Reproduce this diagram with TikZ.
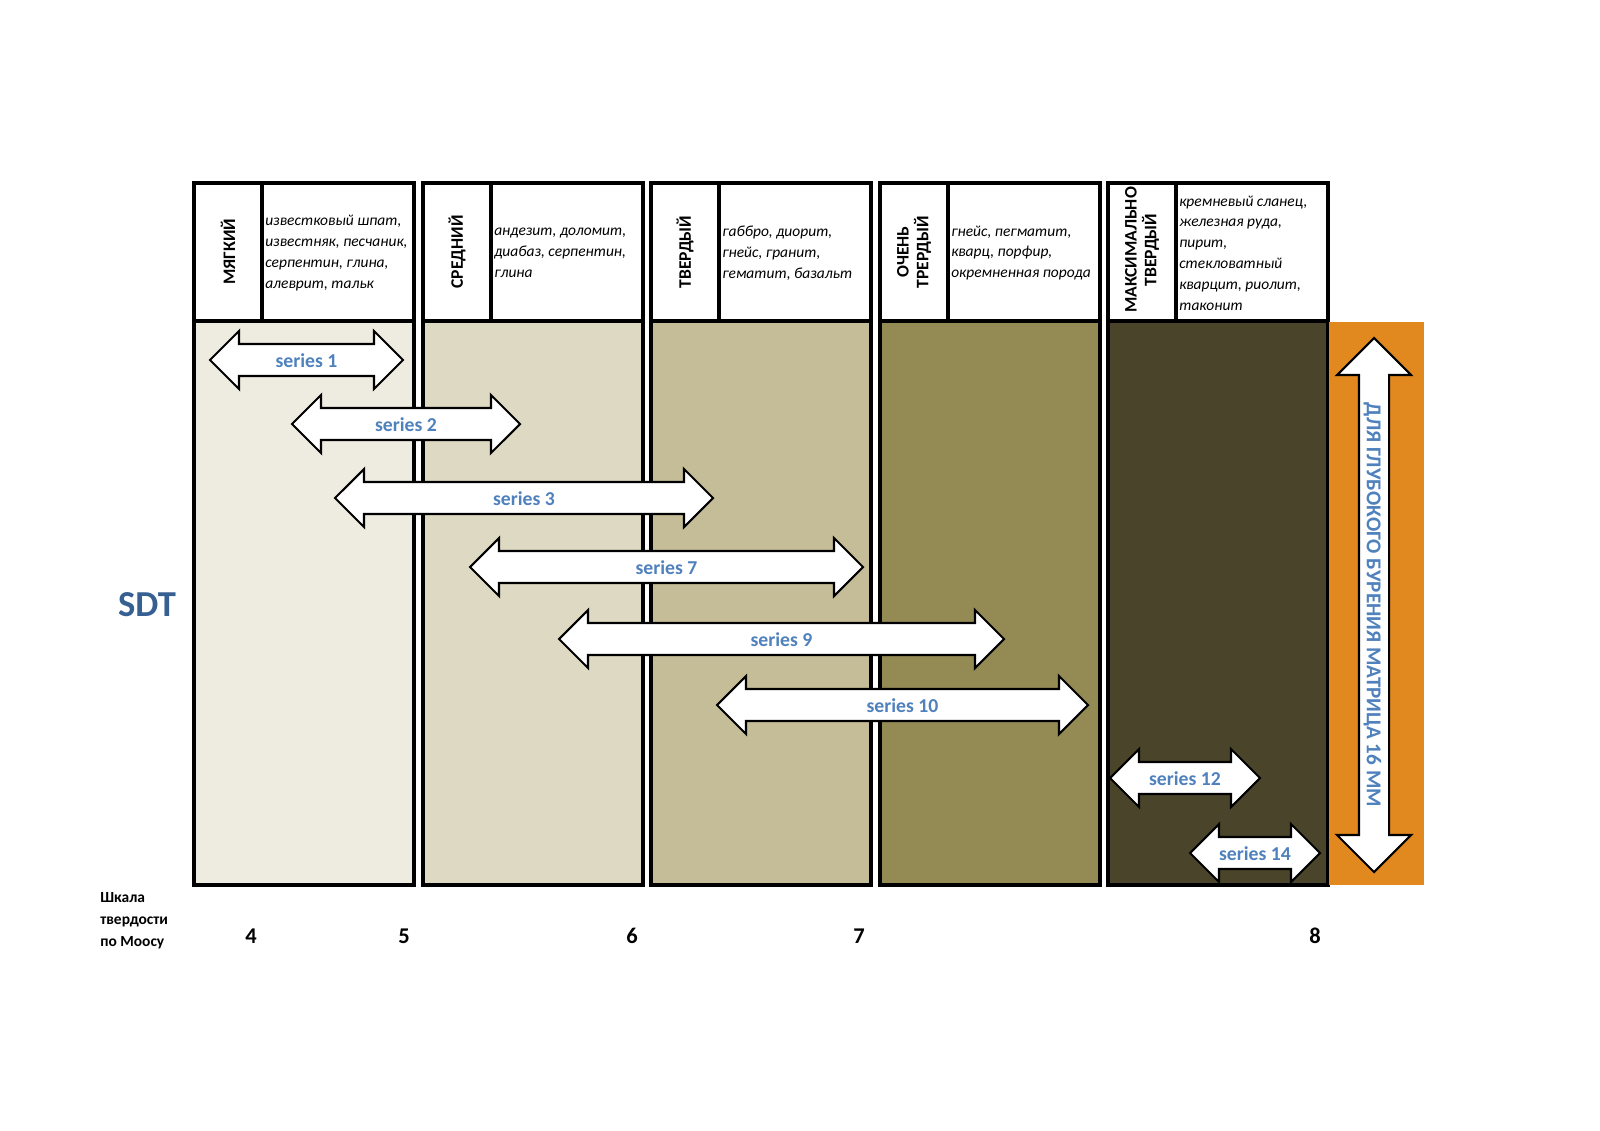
\documentclass[tikz,border=0pt]{standalone}
\usepackage{fontspec}
\setmainfont{Carlito}
\usepackage{xcolor}
\usepackage{tikz}
\usetikzlibrary{shapes,shapes.arrows,positioning}

\definecolor{softfill}{HTML}{EEECE1}
\definecolor{mediumfill}{HTML}{DDD9C3}
\definecolor{hardfill}{HTML}{C4BD97}
\definecolor{veryhardfill}{HTML}{948A54}
\definecolor{maxhardfill}{HTML}{4A452A}
\definecolor{deepfill}{HTML}{E1891E}
\definecolor{seriesblue}{HTML}{4F81BD}
\definecolor{sdtblue}{HTML}{376092}
\newcommand{\pxu}{0.025cm}

\begin{document}
\begin{tikzpicture}[x=\pxu, y=-\pxu,
    frame/.style={line width=2.8pt},
    rock/.style={font=\itshape\fontsize{11}{14.8}\selectfont, align=left, anchor=west, inner sep=0pt},
    hardness/.style={font=\bfseries\fontsize{12.5}{14}\selectfont, rotate=90, align=center, inner sep=0pt},
    series/.style={double arrow, draw, fill=white, line width=1.5pt,
        double arrow head extend=13*\pxu, double arrow tip angle=90,
        text height=10pt, text depth=0pt, inner xsep=0pt, inner ysep=5.65pt,
        text=seriesblue, font=\bfseries\fontsize{14}{16}\selectfont},
    mohs/.style={font=\bfseries\fontsize{16}{18}\selectfont}]
    \useasboundingbox (0,0) rectangle (1600,1131);

    % hardness columns
    \draw[frame, fill=softfill] (194,321) rectangle (414,885);
    \draw[frame] (194,183) rectangle (414,321) (262,183) -- (262,321);
    \draw[frame, fill=mediumfill] (423,321) rectangle (643,885);
    \draw[frame] (423,183) rectangle (643,321) (491,183) -- (491,321);
    \draw[frame, fill=hardfill] (651,321) rectangle (871,885);
    \draw[frame] (651,183) rectangle (871,321) (719,183) -- (719,321);
    \draw[frame, fill=veryhardfill] (880,321) rectangle (1100,885);
    \draw[frame] (880,183) rectangle (1100,321) (948,183) -- (948,321);
    \draw[frame, fill=maxhardfill] (1108,321) rectangle (1328,885);
    \draw[frame] (1108,183) rectangle (1328,321) (1176,183) -- (1176,321);

    % header labels
    \node[hardness] (soft) at (228,252) {МЯГКИЙ};
    \node[rock] (softrock) at (265,253) {известковый шпат,\\известняк, песчаник,\\серпентин, глина,\\алеврит, тальк};
    \node[hardness] (medium) at (457,252) {СРЕДНИЙ};
    \node[rock] (mediumrock) at (494,253) {андезит, доломит,\\диабаз, серпентин,\\глина};
    \node[hardness] (hard) at (685,252) {ТВЕРДЫЙ};
    \node[rock] (hardrock) at (722,253) {габбро, диорит,\\гнейс, гранит,\\гематит, базальт};
    \node[hardness] (veryhard) at (914,252) {ОЧЕНЬ\\ТРЕРДЫЙ};
    \node[rock] (veryhardrock) at (951,253) {гнейс, пегматит,\\кварц, порфир,\\окремненная порода};
    \node[hardness] (maxhard) at (1142,250) {МАКСИМАЛЬНО\\ТВЕРДЫЙ};
    \node[rock] (maxhardrock) at (1179,253) {кремневый сланец,\\железная руда,\\пирит,\\стекловатный\\кварцит, риолит,\\таконит};

    % deep drilling
    \fill[deepfill] (1329,322) rectangle (1424,885);
    \node[series, rotate=-90, minimum height=534*\pxu, inner ysep=4.95pt,
        double arrow head extend=22*\pxu, font=\bfseries\fontsize{15}{17}\selectfont] (deep) at (1374,605) {ДЛЯ ГЛУБОКОГО БУРЕНИЯ МАТРИЦА 16 ММ};

    % series ranges
    \node[series, minimum height=193*\pxu] (s1) at (306.5,360) {series 1};
    \node[series, minimum height=228*\pxu] (s2) at (406,424) {series 2};
    \node[series, minimum height=378*\pxu] (s3) at (524,498) {series 3};
    \node[series, minimum height=393*\pxu] (s7) at (666.5,567) {series 7};
    \node[series, minimum height=445*\pxu] (s9) at (781.5,639) {series 9};
    \node[series, minimum height=371*\pxu] (s10) at (902.5,705) {series 10};
    \node[series, minimum height=150*\pxu] (s12) at (1185,778) {series 12};
    \node[series, minimum height=130*\pxu] (s14) at (1255,853) {series 14};

    \node[text=sdtblue, font=\bfseries\fontsize{26}{28}\selectfont] (sdt) at (147,605) {SDT};

    % Mohs scale
    \node[anchor=west, align=left, inner sep=0pt, font=\bfseries\fontsize{11}{15.6}\selectfont] (scale) at (100,921) {Шкала\\твердости\\по Моосу};
    \node[mohs] (m4) at (251,936) {4};
    \node[mohs] (m5) at (404,936) {5};
    \node[mohs] (m6) at (632,936) {6};
    \node[mohs] (m7) at (859,936) {7};
    \node[mohs] (m8) at (1315,936) {8};
\end{tikzpicture}
\end{document}
